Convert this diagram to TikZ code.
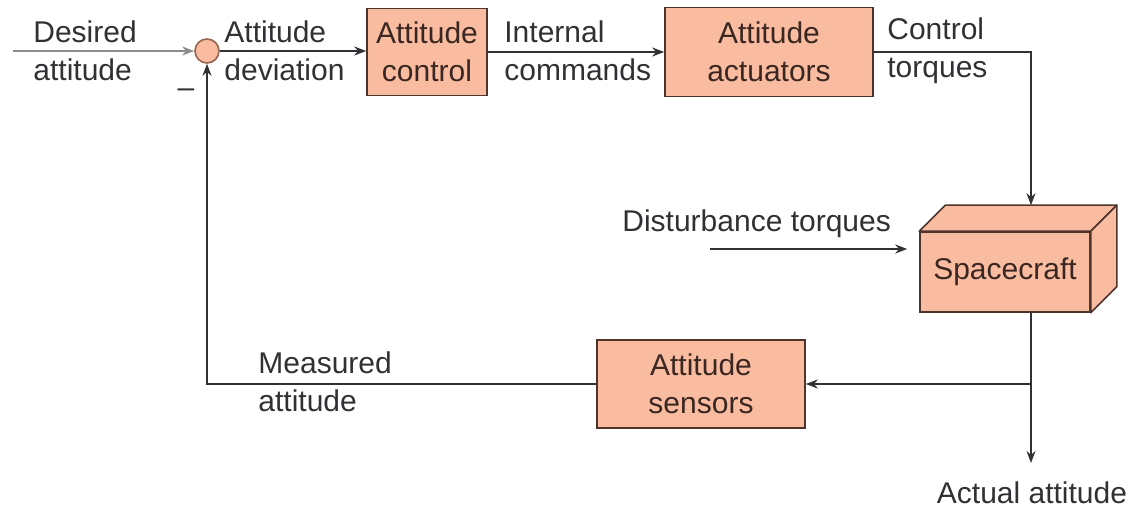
\documentclass[tikz,border=0pt]{standalone}
\usepackage{fontspec}
\setmainfont{Liberation Sans}
\usetikzlibrary{arrows.meta,calc}
\definecolor{boxfill}{RGB}{249,188,160}
\definecolor{boxline}{RGB}{78,52,44}
\definecolor{inkgray}{RGB}{50,48,52}
\definecolor{inputgray}{RGB}{140,140,140}
\definecolor{sumline}{RGB}{150,100,80}
\tikzset{
  block/.style={draw=boxline, fill=boxfill, line width=0.8pt, align=center,
    text=boxline!75!black, inner sep=0pt, font=\fontsize{15}{19}\selectfont},
  lbl/.style={inner sep=0pt, align=left, text=inkgray, anchor=west,
    font=\fontsize{15}{19}\selectfont},
  wire/.style={draw=inkgray, line width=0.8pt},
  arr/.style={wire, -{Stealth[length=6pt,width=4.5pt]}},
}
\begin{document}
\begin{tikzpicture}[x=0.5pt,y=-0.5pt]
\useasboundingbox (0,0) rectangle (1132,508);

% blocks
\node[circle, draw=sumline, fill=boxfill, line width=0.8pt, minimum size=12pt, inner sep=0pt] (sum) at (207,51) {};
\node[block, minimum width=60pt, minimum height=43.5pt] (ctrl) at (427,52) {Attitude\\control};
\node[block, minimum width=104pt, minimum height=44.5pt] (act) at (769,52) {Attitude\\actuators};
\node[block, minimum width=104pt, minimum height=44pt] (sens) at (701,384) {Attitude\\sensors};

% spacecraft drawn as a box with top and side faces
\node[block, minimum width=85pt, minimum height=40pt] (sc) at (1005,272) {Spacecraft};
\draw[draw=boxline, fill=boxfill, line width=0.8pt, line join=round]
  (sc.north west) -- ++(26,-26) -- ($(sc.north east)+(26,-26)$) -- (sc.north east) -- cycle;
\draw[draw=boxline, fill=boxfill, line width=0.8pt, line join=round]
  (sc.north east) -- ++(26,-26) -- ($(sc.south east)+(26,-26)$) -- (sc.south east) -- cycle;
\coordinate (sctop) at ($(sc.north)+(26,-26)$);

% free ends
\coordinate (in) at (13,51);
\coordinate (dist) at (710,249);
\coordinate (tap) at (1031,384);
\coordinate (out) at (1031,463);

% labels
\node[lbl] (ldes) at (33,51) {Desired\\attitude};
\node[lbl] (ldev) at (224,51) {Attitude\\deviation};
\node[lbl] (lint) at (504,51) {Internal\\commands};
\node[lbl] (ltor) at (887,51) {Control\\torques};
\node[lbl] (ldist) at (622,224) {Disturbance torques};
\node[lbl] (lmeas) at (258,382) {Measured\\attitude};
\node[lbl, anchor=center] (lact) at (1032,493) {Actual attitude};
\node[lbl, anchor=center] (lminus) at (186,93) {--};

% connectors
\draw[arr, draw=inputgray] (in) -- (sum.west);
\draw[arr] (sum.east) -- (sum.east -| ctrl.west);
\draw[arr] (ctrl.east) -- (act.west);
\draw[arr] (act.east) -| (sctop);
\draw[arr] (dist) -- ($(sc.west |- dist)+(-12,0)$);
\draw[arr] (sc.south -| tap) -- (out);
\draw[arr] (tap) -- (sens.east);
\draw[arr] (sens.west) -| (sum.south);
\end{tikzpicture}
\end{document}
